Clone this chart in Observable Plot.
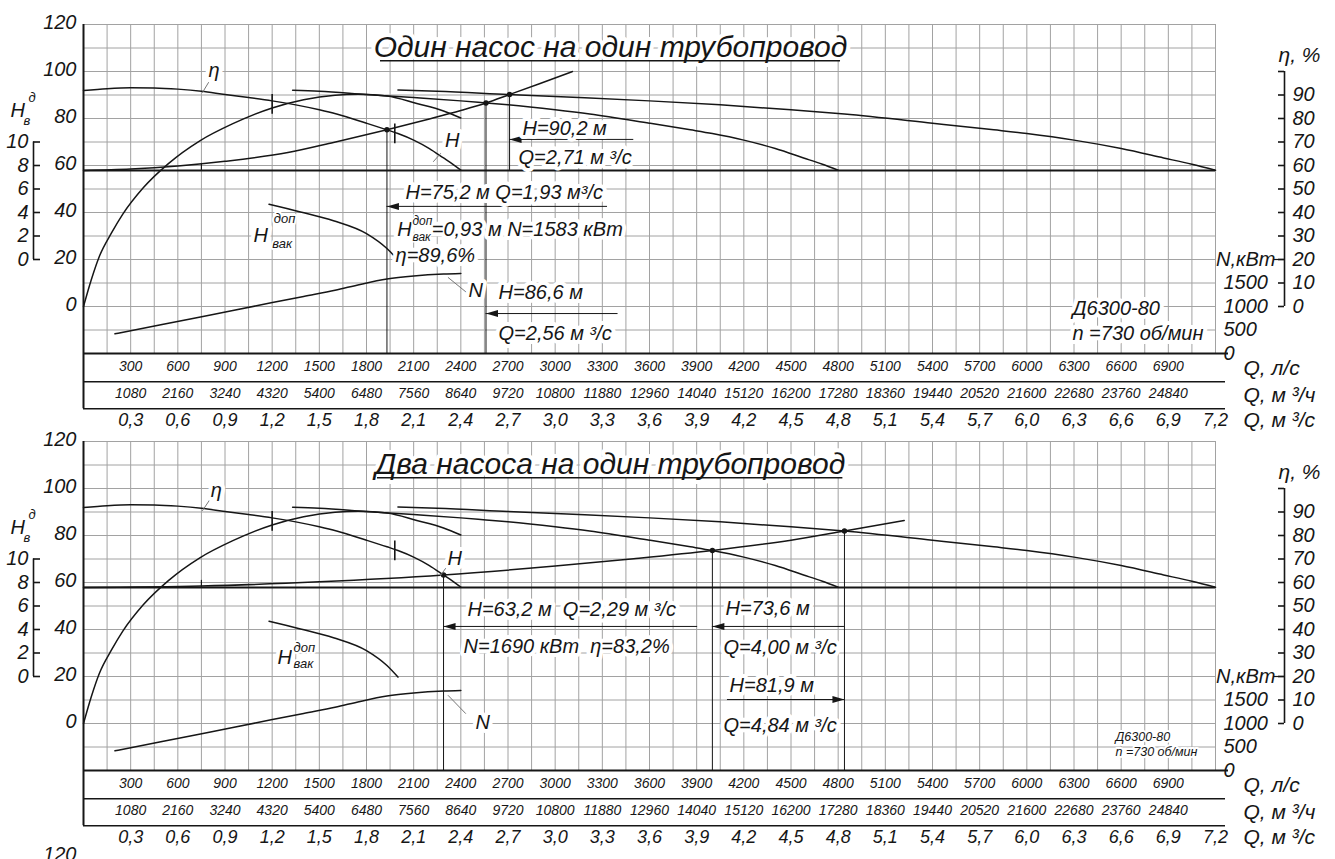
<!DOCTYPE html>
<html><head><meta charset="utf-8">
<script src="https://cdn.jsdelivr.net/npm/d3@7"></script>
<script src="https://cdn.jsdelivr.net/npm/@observablehq/plot@0.6"></script>
<style>
html,body{margin:0;padding:0;background:#fff;overflow:hidden;}
#c{width:1335px;}
#c svg{display:block;}
</style></head><body><div id="c"></div>
<script>
// ---------- axis / tick labels ----------
const hAxisLabels = [120, 100, 80, 60, 40, 20, 0];
const hvakAxisLabels = [10, 8, 6, 4, 2, 0];
const etaAxisLabels = [90, 80, 70, 60, 50, 40, 30, 20, 10, 0];
const nAxisLabels = [1500, 1000, 500, 0];
const qLs = [300,600,900,1200,1500,1800,2100,2400,2700,3000,3300,3600,3900,4200,4500,4800,5100,5400,5700,6000,6300,6600,6900];
const qM3h = [1080,2160,3240,4320,5400,6480,7560,8640,9720,10800,11880,12960,14040,15120,16200,17280,18360,19440,20520,21600,22680,23760,24840];
const qM3s = [0.3,0.6,0.9,1.2,1.5,1.8,2.1,2.4,2.7,3.0,3.3,3.6,3.9,4.2,4.5,4.8,5.1,5.4,5.7,6.0,6.3,6.6,6.9,7.2];

// ---------- pump curves (Q in m3/s) ----------
const h1Q = [0,0.15,0.3,0.45,0.6,0.75,0.9,1.05,1.2,1.35,1.5,1.61,1.8,1.93,2.0,2.1,2.2,2.29,2.35,2.4];
const h1H = [91.9,92.7,93.1,93.0,92.5,91.6,90.2,88.9,87.5,85.8,83.7,81.9,78.0,75.2,73.6,70.8,67.2,63.2,60.5,58.0];
const h2Q = [1.33,1.5,1.8,2.1,2.4,2.56,2.7,3.0,3.22,3.6,3.86,4.0,4.2,4.4,4.58,4.7,4.8];
const h2H = [92.0,91.6,90.2,88.9,87.5,86.6,85.8,83.7,81.9,78.0,75.2,73.6,70.8,67.2,63.2,60.5,58.0];
const h3Q = [2.0,2.25,2.7,3.15,3.6,4.05,4.5,4.84,5.4,5.79,6.0,6.3,6.6,6.87,7.05,7.2];
const h3H = [92.1,91.6,90.2,88.9,87.5,85.8,83.7,81.9,78.0,75.2,73.6,70.8,67.2,63.2,60.5,58.0];
const etaQ = [0,0.05,0.1,0.18,0.25,0.38,0.54,0.74,0.95,1.2,1.4,1.6,1.75,1.93,2.12,2.29,2.4];
const etaV = [0,11.5,21.2,31.5,39.3,50.5,60.8,70.5,77.8,84.5,88.0,89.9,90.3,89.6,86.4,83.2,80.2];
const nQ = [0.2,0.5,0.8,1.1,1.4,1.6,1.76,1.93,2.1,2.29,2.4];
const nV = [420,615,815,1015,1215,1345,1470,1583,1648,1690,1702];
const hvQ = [1.18,1.38,1.59,1.8,1.93,2.0];
const hvV = [4.7,4.05,3.3,2.2,0.93,-0.05];
const hStatic = 57.9;

// ---------- pipeline characteristics ----------
const sysOneQ = [0,0.3,0.6,0.9,1.3,1.59,1.93,2.2,2.4,2.56,2.71,2.9,3.11];
const sysOneH = [57.9,58.5,59.8,61.8,65.5,69.8,75.2,79.8,83.4,86.6,90.2,94.8,100];
const sysTwoQ = [0,0.75,1.5,2.29,3.0,3.5,4.0,4.5,4.84,5.22];
const sysTwoH = [57.9,58.5,60.3,63.2,67.0,70.1,73.6,78.0,81.9,86.4];

// ---------- operating points ----------
const opsOneQ = [1.93, 2.56, 2.71];
const opsOneH = [75.2, 86.6, 90.2];
const opsTwoQ = [2.29, 4.00, 4.84];
const opsTwoH = [63.2, 73.6, 81.9];
const workQ = [1.2, 1.98];
const workH = [86.0, 73.5];

// ---------- scale conversions to the common H grid ----------
const etaToH = v => v;
const nToH = v => -20 + v / 50;
const hvToH = v => 20 + 5 * v;
const ser = (qs, vs, f = v => v) => qs.map((q, i) => ({q, h: f(vs[i])}));
const comma = v => v.toFixed(1).replace(".", ",");

const INK = "#161616";
const GRID = "#a2a2a2";
const FONT = '"Liberation Sans", Arial, "DejaVu Sans", sans-serif';
const gridQ = d3.range(0, 49).map(i => i * 0.15);
const gridH = d3.range(-20, 121, 10);

const headLeft = {draw(c){ c.moveTo(0,0); c.lineTo(12,-3.5); c.lineTo(12,3.5); c.closePath(); }};
const headRight = {draw(c){ c.moveTo(0,0); c.lineTo(-12,-3.5); c.lineTo(-12,3.5); c.closePath(); }};

const T = (rows, o = {}) => Plot.text(rows, {x: d => d[0], y: d => d[1], text: d => d[2],
  textAnchor: "start", fontSize: 20, fill: INK, fontStyle: "italic", ...o});
const TH = (rows, o = {}) => T(rows, {stroke: "white", strokeWidth: 8, strokeLinejoin: "round", paintOrder: "stroke", ...o});
const curve = data => Plot.line(data, {x: "q", y: "h", curve: "monotone-x", stroke: INK, strokeWidth: 1.5});
const leader = pts => Plot.line(pts, {x: d => d[0], y: d => d[1], stroke: "#777", strokeWidth: 1});

function panel(cfg) {
  const ops = cfg.opsQ.map((q, i) => ({q, h: cfg.opsH[i], to: cfg.dropTo[i]}));
  const marks = [
    Plot.ruleX(gridQ, {y1: -20, y2: 120, stroke: GRID, strokeWidth: 1}),
    Plot.ruleY(gridH, {x1: 0, x2: 7.2, stroke: GRID, strokeWidth: 1}),
    Plot.ruleY([hStatic], {x1: 0, x2: 7.2, stroke: INK, strokeWidth: 2}),
    Plot.ruleX([0], {y1: -43.5, y2: 120, stroke: INK, strokeWidth: 2}),
    Plot.ruleY([-20], {x1: 0, x2: 7.2, insetRight: -13, stroke: INK, strokeWidth: 2.2}),
    Plot.ruleY([-32, -43.5], {x1: 0, x2: 7.2, insetRight: -10, stroke: INK, strokeWidth: 1.6}),
    // curves
    curve(ser(h1Q, h1H)), curve(ser(h2Q, h2H)), curve(ser(h3Q, h3H)),
    curve(ser(etaQ, etaV, etaToH)), curve(ser(nQ, nV, nToH)), curve(ser(hvQ, hvV, hvToH)),
    curve(ser(cfg.sysQ, cfg.sysH)),
    // working range ticks
    Plot.ruleX(workQ.map((q, i) => ({q, h: workH[i]})), {x: "q", y1: d => d.h - 4.2, y2: d => d.h + 4.2, stroke: INK, strokeWidth: 1.6}),
    Plot.ruleX([0.75], {y1: hStatic, y2: hStatic + 3, stroke: INK, strokeWidth: 1.2}),
    // drop lines & operating points
    Plot.ruleX(ops, {x: "q", y1: "h", y2: "to", stroke: INK, strokeWidth: 1}),
    Plot.dot(ops, {x: "q", y: "h", r: 2.7, fill: INK}),
    // arrows
    Plot.ruleY(cfg.arrows, {y: "h", x1: "a", x2: "b", stroke: INK, strokeWidth: 1}),
    Plot.dot(cfg.arrows.filter(d => d.dir < 0), {x: "a", y: "h", symbol: headLeft, fill: INK, stroke: "none"}),
    Plot.dot(cfg.arrows.filter(d => d.dir > 0), {x: "b", y: "h", symbol: headRight, fill: INK, stroke: "none"}),
    // leaders
    ...cfg.leaders.map(leader),
    // left axis H
    T(hAxisLabels.map(v => [0, v, String(v)]), {textAnchor: "end", dx: -7, dy: -2, fontSize: 20}),
    // left bracket axis for H_vak
    Plot.ruleX([0], {y1: hvToH(0), y2: hvToH(10), dx: -50, stroke: INK, strokeWidth: 1.6}),
    Plot.ruleY(hvakAxisLabels.map(hvToH), {x1: 0, x2: 0, dx: -50, insetRight: -7, stroke: INK, strokeWidth: 1.6}),
    T(hvakAxisLabels.map(v => [0, hvToH(v), String(v)]), {textAnchor: "end", dx: -55, fontSize: 20}),
    T([[0, 83.4, "H"]], {dx: -73, fontSize: 20}),
    T([[0, 79.0, "в"]], {dx: -60, fontSize: 13}),
    T([[0, 89.0, "д"]], {dx: -55, fontSize: 13}),
    // right bracket axis for eta
    Plot.ruleX([7.2], {y1: 0, y2: 100, dx: 69, stroke: INK, strokeWidth: 1.6}),
    Plot.ruleY([100, ...etaAxisLabels].map(etaToH), {x1: 7.2, x2: 7.2, dx: 69, insetLeft: -6, stroke: INK, strokeWidth: 1.6}),
    Plot.ruleY([etaToH(20)], {x1: 7.2, x2: 7.2, dx: 69, insetLeft: -10, stroke: INK, strokeWidth: 1.2}),
    T(etaAxisLabels.map(v => [7.2, etaToH(v), String(v)]), {dx: 77, fontSize: 20}),
    T([[7.2, 106.8, "η, %"]], {dx: 63, fontSize: 21}),
    T([[7.2, etaToH(20), "N,кВт"]], {dx: 60, textAnchor: "end", fontSize: 20}),
    T(nAxisLabels.map(v => [7.2, nToH(v), String(v)]), {dx: 8, fontSize: 20}),
    // Q tables
    T(qLs.map(v => [v / 1000, -25.6, String(v)]), {textAnchor: "middle", fontSize: 14}),
    T(qM3h.map(v => [v / 3600, -37.2, String(v)]), {textAnchor: "middle", fontSize: 14}),
    T(qM3s.map(v => [v, -48.3, comma(v)]), {textAnchor: "middle", fontSize: 18}),
    T([[7.2, -26.2, "Q, л/с"], [7.2, -37.6, "Q, м ³/ч"], [7.2, -48.6, "Q, м ³/с"]], {dx: 28, fontSize: 21}),
    // title
    TH([[cfg.titleQ, 110.2, cfg.title]], {textAnchor: "middle", fontSize: 30}),
    Plot.ruleY([104.6], {x1: cfg.ulQ[0], x2: cfg.ulQ[1], stroke: INK, strokeWidth: 1.5}),
    // annotations
    ...cfg.texts.map(([rows, o]) => TH(rows, o || {})),
    ...(cfg.extra || [])
  ];
  return Plot.plot({
    width: 1335, height: cfg.height,
    marginLeft: 83, marginRight: 120, marginTop: 24, marginBottom: cfg.height - 353,
    x: {domain: [0, 7.2], axis: null},
    y: {domain: [-20, 120], axis: null},
    style: {fontFamily: FONT, background: "white", overflow: "visible"},
    marks
  });
}

const one = panel({
  height: 417,
  title: "Один насос на один трубопровод", titleQ: 3.352, ulQ: [1.889, 4.815],
  sysQ: sysOneQ, sysH: sysOneH, opsQ: opsOneQ, opsH: opsOneH, dropTo: [-20, -20, hStatic],
  arrows: [{a: 1.93, b: 3.333, h: 42.6, dir: -1}, {a: 2.71, b: 3.5, h: 71.1, dir: -1}, {a: 2.56, b: 3.40, h: -3.0, dir: -1}],
  leaders: [[[0.795, 95.3], [0.757, 91.1]], [[2.271, 65.1], [2.226, 61.7]], [[2.32, 12.3], [2.436, 6.0]]],
  texts: [
    [[[2.792, 75.7, "H=90,2 м"], [2.767, 63.4, "Q=2,71 м ³/с"], [2.048, 48.5, "H=75,2 м Q=1,93 м³/с"],
      [1.995, 32.8, "H"], [2.215, 32.8, "=0,93 м N=1583 кВт"], [1.985, 21.7, "η=89,6%"],
      [2.449, 6.8, "N"], [2.64, 6.0, "H=86,6 м"], [2.64, -11.5, "Q=2,56 м ³/с"], [2.30, 70.6, "H"],
      [1.081, 30.2, "H"], [6.29, -0.85, "Д6300-80"], [6.29, -11.5, "n =730 об/мин"]]],
    [[[0.83, 100.4, "η"]], {textAnchor: "middle"}],
    [[[2.092, 36.4, "доп"], [2.092, 29.4, "вак"]], {fontSize: 12, strokeWidth: 3}],
    [[[1.21, 37.4, "доп"], [1.20, 26.8, "вак"]], {fontSize: 13, strokeWidth: 4}]
  ]
});

const two = panel({
  height: 442,
  title: "Два насоса на один трубопровод", titleQ: 3.35, ulQ: [1.87, 4.83],
  sysQ: sysTwoQ, sysH: sysTwoH, opsQ: opsTwoQ, opsH: opsTwoH, dropTo: [-20, -20, -20],
  arrows: [{a: 2.29, b: 3.906, h: 41.3, dir: -1}, {a: 4.0, b: 4.84, h: 41.3, dir: -1}, {a: 4.096, b: 4.84, h: 10.2, dir: 1}],
  leaders: [[[0.808, 95.7], [0.757, 90.6]], [[2.303, 66.0], [2.271, 63.0]], [[2.32, 11.9], [2.43, 4.3]]],
  texts: [
    [[[2.442, 48.5, "H=63,2 м  Q=2,29 м ³/с"], [2.417, 32.8, "N=1690 кВт  η=83,2%"],
      [4.083, 48.9, "H=73,6 м"], [4.071, 32.3, "Q=4,00 м ³/с"], [4.109, 16.2, "H=81,9 м"],
      [4.071, -0.85, "Q=4,84 м ³/с"], [2.315, 70.2, "H"], [2.493, 0.4, "N"], [1.234, 28.1, "H"]]],
    [[[0.845, 99.1, "η"]], {textAnchor: "middle"}],
    [[[1.336, 32.3, "доп"], [1.336, 25.5, "вак"]], {fontSize: 13, strokeWidth: 4}],
    [[[6.564, -5.7, "Д6300-80"], [6.564, -12.0, "n =730 об/мин"]], {fontSize: 12.5, strokeWidth: 4}]
  ],
  extra: [T([[0, -55.9, "120"]], {textAnchor: "end", dx: -7, fontSize: 20})]
});

document.getElementById("c").append(one, two);
</script></body></html>
